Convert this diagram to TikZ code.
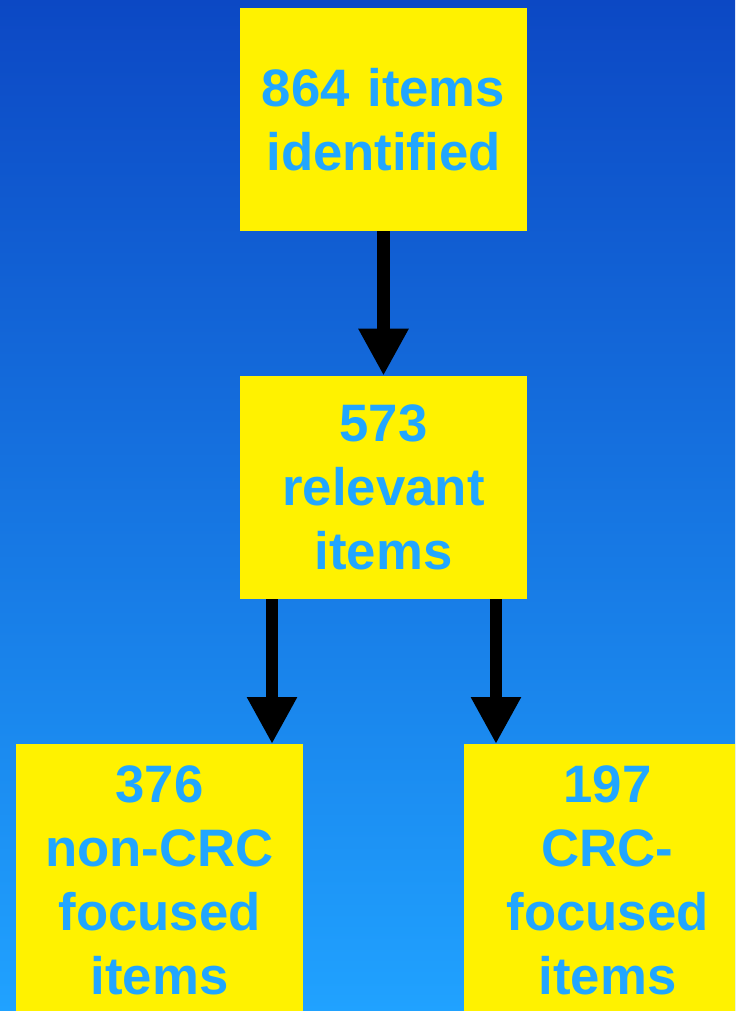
\documentclass[tikz,border=0pt]{standalone}
\usepackage{fontspec}
\setmainfont{Liberation Sans}
\usetikzlibrary{positioning, arrows.meta}

\definecolor{skytop}{RGB}{12,72,196}
\definecolor{skymid}{RGB}{26,138,234}
\definecolor{skybot}{RGB}{32,162,255}
\definecolor{boxtext}{RGB}{33,166,255}

\tikzset{
  stagebox/.style={fill=yellow, text=boxtext, align=center, inner sep=0pt,
    font=\bfseries\fontsize{30}{36.3}\selectfont,
    minimum width=5.74cm, text width=5.7cm},
  flow/.style={draw=black, line width=0.25cm,
    -{Triangle[length=0.94cm, width=0.94cm]}}
}

\begin{document}
\begin{tikzpicture}[x=0.02cm, y=-0.02cm]
          \useasboundingbox (0,0) rectangle (735,1011);
          \clip (0,0) rectangle (735,1011);
          \shade[top color=skytop, middle color=skymid, bottom color=skybot]
            (0,0) rectangle (735,1011);

          \node (found) [stagebox, minimum height=4.46cm] at (383.5,119.5) {864 items\\identified};
          \node (relevant) [stagebox, minimum height=4.46cm] at (383.5,487.5) {573\\relevant\\items};
          \node (noncrc) [stagebox, minimum height=5.44cm, anchor=north] at (159.5,744) {376\\non-CRC\\focused\\items};
          \node (crc) [stagebox, minimum height=5.44cm, anchor=north] at (607.5,744) {197\\CRC-\\focused\\items};

          \path[flow] (found) -- (relevant);
          \path[flow] ([xshift=-2.23cm]relevant.south) -- ([xshift=-2.23cm]relevant.south |- noncrc.north);
          \path[flow] ([xshift=2.25cm]relevant.south) -- ([xshift=2.25cm]relevant.south |- crc.north);
        \end{tikzpicture}
\end{document}
